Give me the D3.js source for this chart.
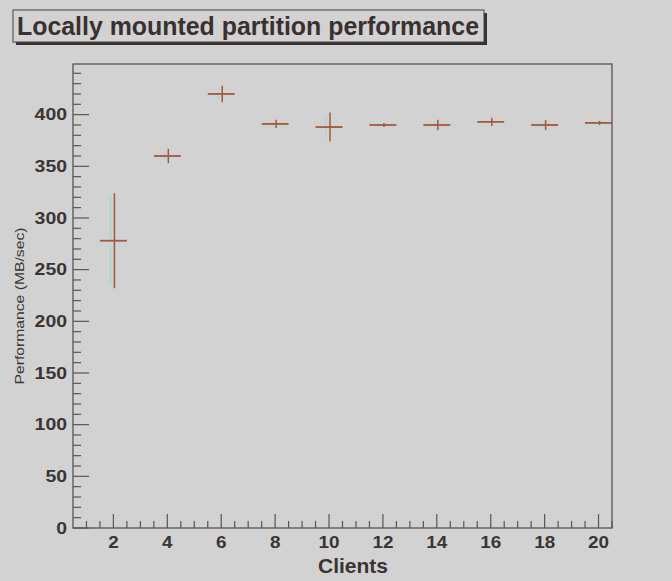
<!DOCTYPE html>
<html><head><meta charset="utf-8">
<script src="https://cdn.jsdelivr.net/npm/d3@7"></script>
<style>body{margin:0;background:#d2d2d2}svg{display:block}</style>
</head><body>
<script>
const titleText = "Locally mounted partition performance";
const xTitle = "Clients";
const yTitle = "Performance (MB/sec)";
const clients = [2, 4, 6, 8, 10, 12, 14, 16, 18, 20];
const clientErr = [0.5, 0.5, 0.5, 0.5, 0.5, 0.5, 0.5, 0.5, 0.5, 0.5];
const perf = [278, 360, 420, 391, 388, 390, 390, 393, 390, 392];
const perfErr = [46, 7, 8, 4, 14, 2, 5, 4, 5, 2];
const xTicks = [2, 4, 6, 8, 10, 12, 14, 16, 18, 20];
const yTicks = [0, 50, 100, 150, 200, 250, 300, 350, 400];

const W = 672, H = 581;
const svg = d3.select("body").append("svg").attr("width", W).attr("height", H);
svg.append("rect").attr("width", W).attr("height", H).attr("fill", "#d2d2d2");

const x = d3.scaleLinear().domain([0.5, 20.5]).range([73, 612]);
const y = d3.scaleLinear().domain([0, 449]).range([528, 64]);
const ink = "#3a3434";
const font = "Liberation Sans, Arial, sans-serif";

// frame
svg.append("rect").attr("x", x.range()[0]).attr("y", y.range()[1])
  .attr("width", x.range()[1] - x.range()[0]).attr("height", y.range()[0] - y.range()[1])
  .attr("fill", "none").attr("stroke", "#555").attr("stroke-width", 1.3);

// y axis
const yMinor = d3.range(0, 450, 10);
svg.append("g").selectAll("line").data(yMinor).join("line")
  .attr("x1", x.range()[0]).attr("x2", d => x.range()[0] + (d % 50 === 0 ? 16 : 8))
  .attr("y1", d => y(d)).attr("y2", d => y(d))
  .attr("stroke", "#555").attr("stroke-width", 1.2);
svg.append("g").selectAll("text").data(yTicks).join("text")
  .attr("x", 67).attr("y", d => y(d) + 5.8).attr("text-anchor", "end")
  .attr("font-family", font).attr("font-weight", "bold")
  .attr("font-size", 16).attr("textLength", d => String(d).length * 10.8)
  .attr("lengthAdjust", "spacingAndGlyphs")
  .attr("fill", ink).text(d => d);

// x axis
const xMinor = d3.range(1, 20.51, 0.5);
svg.append("g").selectAll("line").data(xMinor).join("line")
  .attr("x1", d => x(d)).attr("x2", d => x(d))
  .attr("y1", y.range()[0]).attr("y2", d => y.range()[0] - (d % 2 === 0 ? 14 : 7))
  .attr("stroke", "#555").attr("stroke-width", 1.2);
svg.append("g").selectAll("text").data(xTicks).join("text")
  .attr("x", d => x(d)).attr("y", 548).attr("text-anchor", "middle")
  .attr("font-family", font).attr("font-weight", "bold")
  .attr("font-size", 16).attr("textLength", d => String(d).length * 10.5)
  .attr("lengthAdjust", "spacingAndGlyphs")
  .attr("fill", ink).text(d => d);

// axis titles
svg.append("text").attr("x", 353).attr("y", 573).attr("text-anchor", "middle")
  .attr("font-family", font).attr("font-size", 21).attr("font-weight", 600)
  .attr("textLength", 70).attr("lengthAdjust", "spacingAndGlyphs")
  .attr("fill", ink).text(xTitle);
svg.append("text").attr("transform", "translate(24,306) rotate(-90)").attr("text-anchor", "middle")
  .attr("font-family", font).attr("font-size", 13)
  .attr("textLength", 157).attr("lengthAdjust", "spacingAndGlyphs")
  .attr("fill", ink).text(yTitle);

// data error crosses
const data = clients.map((c, i) => ({c, ce: clientErr[i], p: perf[i], pe: perfErr[i]}));
const g = svg.append("g");
// faint cyan ghost (scan misregistration)
g.selectAll("line.gv").data(data).join("line").attr("class", "gv")
  .attr("x1", d => x(d.c) - 3).attr("x2", d => x(d.c) - 3)
  .attr("y1", d => y(d.p + d.pe) + 3).attr("y2", d => y(d.p - d.pe) - 3)
  .attr("stroke", "#9fd6d6").attr("stroke-width", 1.5).attr("opacity", 0.7);
g.selectAll("line.gh").data(data).join("line").attr("class", "gh")
  .attr("x1", d => x(d.c - d.ce) - 2).attr("x2", d => x(d.c + d.ce) - 2)
  .attr("y1", d => y(d.p) + 3).attr("y2", d => y(d.p) + 3)
  .attr("stroke", "#b8dcdc").attr("stroke-width", 1.5).attr("opacity", 0.6);
g.selectAll("line.v").data(data).join("line").attr("class", "v")
  .attr("x1", d => x(d.c) + 1).attr("x2", d => x(d.c) + 1)
  .attr("y1", d => y(d.p + d.pe)).attr("y2", d => y(d.p - d.pe))
  .attr("stroke", "#a5583a").attr("stroke-width", 1.5);
g.selectAll("line.h").data(data).join("line").attr("class", "h")
  .attr("x1", d => x(d.c - d.ce)).attr("x2", d => x(d.c + d.ce))
  .attr("y1", d => y(d.p)).attr("y2", d => y(d.p))
  .attr("stroke", "#a5583a").attr("stroke-width", 1.8);

// title box with shadow
svg.append("rect").attr("x", 16).attr("y", 13).attr("width", 471).attr("height", 32).attr("fill", "#3a3030");
svg.append("rect").attr("x", 13).attr("y", 10).attr("width", 471).attr("height", 32)
  .attr("fill", "#d2d2d2").attr("stroke", "#444").attr("stroke-width", 1);
svg.append("text").attr("x", 17).attr("y", 35)
  .attr("font-family", font).attr("font-weight", "bold")
  .attr("font-size", 25).attr("textLength", 462).attr("lengthAdjust", "spacingAndGlyphs")
  .attr("fill", "#3a3030").text(titleText);
</script>
</body></html>
